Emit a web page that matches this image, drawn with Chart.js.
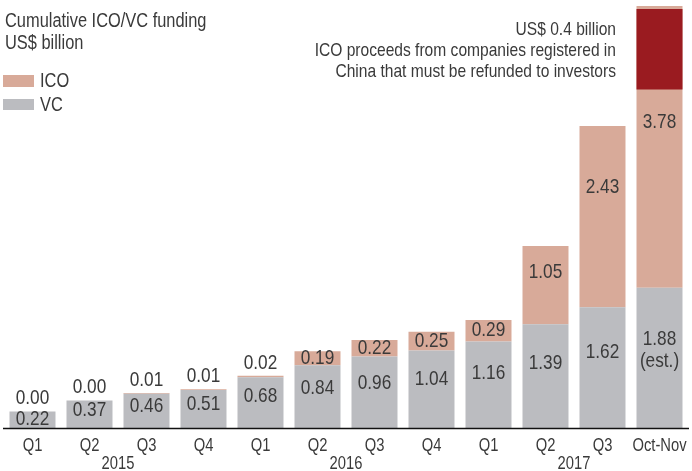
<!DOCTYPE html>
<html>
<head>
<meta charset="utf-8">
<script src="https://cdn.jsdelivr.net/npm/chart.js@4.4.1/dist/chart.umd.min.js"></script>
<style>
  html, body { margin: 0; padding: 0; background: #fff; }
  #wrap { width: 692px; height: 471px; position: relative; }
</style>
</head>
<body>
<div id="wrap"><canvas id="chart" width="692" height="471"></canvas></div>
<script>
// ---- data ----
const quarters = ['Q1', 'Q2', 'Q3', 'Q4', 'Q1', 'Q2', 'Q3', 'Q4', 'Q1', 'Q2', 'Q3', 'Oct-Nov'];
const years = [
  { label: '2015', first: 0, last: 3 },
  { label: '2016', first: 4, last: 7 },
  { label: '2017', first: 8, last: 11 }
];
const vcValues  = [0.22, 0.37, 0.46, 0.51, 0.68, 0.84, 0.96, 1.04, 1.16, 1.39, 1.62, 1.88];
const icoValues = [0.00, 0.00, 0.01, 0.01, 0.02, 0.19, 0.22, 0.25, 0.29, 1.05, 2.43, 3.78];
const vcNotes   = ['', '', '', '', '', '', '', '', '', '', '', '(est.)'];
// dark red block drawn over the top of the last ICO bar (range on the value axis)
const refundRange = [null, null, null, null, null, null, null, null, null, null, null, [4.54, 5.62]];
const titleLines = ['Cumulative ICO/VC funding', 'US$ billion'];
const noteLines = ['US$ 0.4 billion', 'ICO proceeds from companies registered in', 'China that must be refunded to investors'];

const COL_VC = '#bbbcc0';
const COL_ICO = '#d8aa99';
const COL_REFUND = '#9a1b20';
const TXT = '#3a3a3a';
const FONT = '"Liberation Sans", Arial, sans-serif';
const NARROW = 0.82; // squeeze Liberation Sans to look like a condensed face

// draw text squeezed horizontally around its anchor
function narrowText(ctx, text, x, y) {
  ctx.save();
  ctx.translate(x, y);
  ctx.scale(NARROW, 1);
  ctx.fillText(text, 0, 0);
  ctx.restore();
}

const decor = {
  id: 'decor',
  afterDatasetsDraw(chart) {
    const { ctx, chartArea, scales: { x } } = chart;
    const vcMeta = chart.getDatasetMeta(0);
    const icoMeta = chart.getDatasetMeta(1);
    const refMeta = chart.getDatasetMeta(2);

    ctx.save();
    ctx.fillStyle = TXT;
    ctx.textAlign = 'center';
    ctx.textBaseline = 'middle';
    ctx.font = '21px ' + FONT;

    vcValues.forEach((v, i) => {
      const bar = vcMeta.data[i];
      const h = bar.base - bar.y;
      const y = bar.y + Math.max(8, 0.37 * h);
      narrowText(ctx, v.toFixed(2), bar.x, y);
      if (vcNotes[i]) narrowText(ctx, vcNotes[i], bar.x, y + 22);
    });

    icoValues.forEach((v, i) => {
      const bar = icoMeta.data[i];
      const h = bar.base - bar.y;
      let y;
      if (refundRange[i]) {
        y = refMeta.data[i].base + 33;
      } else if (v < 0.05) {
        y = bar.y - 13;
      } else if (h < 30) {
        y = bar.y + h / 2;
      } else {
        y = bar.y + Math.min(0.34 * h, 64);
      }
      narrowText(ctx, v.toFixed(2), bar.x, y);
    });

    // baseline
    ctx.strokeStyle = '#111';
    ctx.lineWidth = 1.5;
    ctx.beginPath();
    ctx.moveTo(3, chartArea.bottom + 0.5);
    ctx.lineTo(689, chartArea.bottom + 0.5);
    ctx.stroke();

    // category + year labels
    ctx.font = '18px ' + FONT;
    quarters.forEach((q, i) => narrowText(ctx, q, x.getPixelForValue(i), 446));
    years.forEach(yr => {
      const cx = (x.getPixelForValue(yr.first) + x.getPixelForValue(yr.last)) / 2;
      narrowText(ctx, yr.label, cx, 464);
    });

    // title + legend
    ctx.textAlign = 'left';
    ctx.font = '20px ' + FONT;
    narrowText(ctx, titleLines[0], 5, 21);
    narrowText(ctx, titleLines[1], 5, 43);
    ctx.fillStyle = COL_ICO;
    ctx.fillRect(3, 75, 31, 12);
    ctx.fillStyle = COL_VC;
    ctx.fillRect(3, 99, 31, 11);
    ctx.fillStyle = TXT;
    narrowText(ctx, 'ICO', 40, 81);
    narrowText(ctx, 'VC', 40, 105);

    // note on the refund block
    ctx.textAlign = 'right';
    ctx.font = '19px ' + FONT;
    noteLines.forEach((t, k) => narrowText(ctx, t, 616, 30 + k * 21));
    ctx.restore();
  }
};

new Chart(document.getElementById('chart'), {
  type: 'bar',
  data: {
    labels: quarters,
    datasets: [
      { label: 'VC', data: vcValues, backgroundColor: COL_VC, stack: 'main' },
      { label: 'ICO', data: icoValues, backgroundColor: COL_ICO, stack: 'main' },
      { label: 'Refund', data: refundRange, backgroundColor: COL_REFUND, stack: 'refund', grouped: false, order: -1 }
    ]
  },
  options: {
    responsive: false,
    devicePixelRatio: 1,
    animation: false,
    layout: { padding: { left: 4, right: 4, top: 0, bottom: 43 } },
    datasets: { bar: { categoryPercentage: 1, barPercentage: 0.807, borderWidth: 0 } },
    plugins: { legend: { display: false }, tooltip: { enabled: false } },
    scales: {
      x: { display: false, stacked: true },
      y: { display: false, stacked: true, min: 0, max: 5.74 }
    }
  },
  plugins: [decor]
});
</script>
</body>
</html>
